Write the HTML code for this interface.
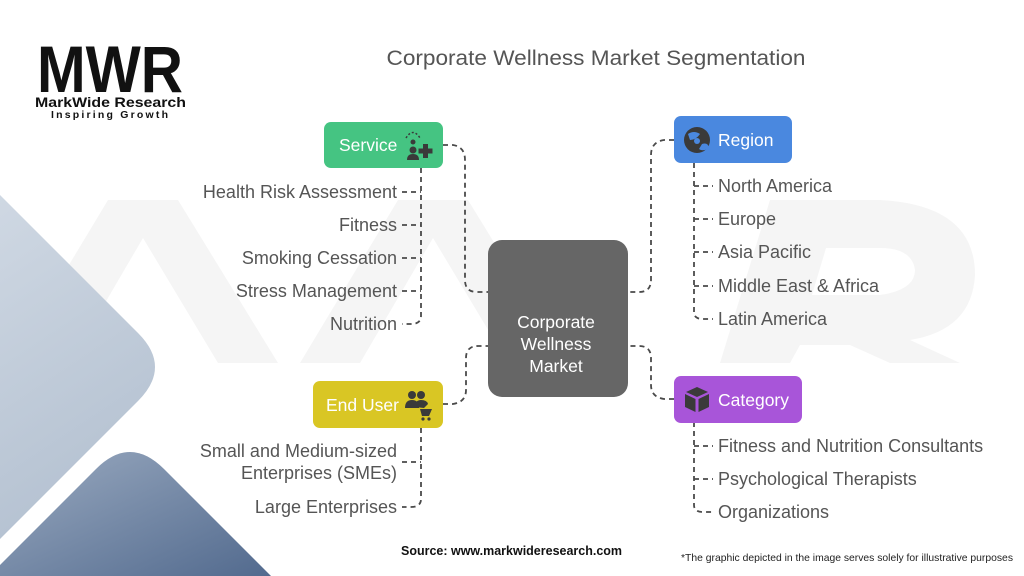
<!DOCTYPE html>
<html>
<head>
<meta charset="utf-8">
<style>
html,body{margin:0;padding:0;background:#fff;}
body{width:1024px;height:576px;overflow:hidden;position:relative;font-family:"Liberation Sans",sans-serif;}
svg{position:absolute;left:0;top:0;overflow:hidden;}
</style>
</head>
<body>
<svg width="1024" height="576" viewBox="0 0 1024 576" xmlns="http://www.w3.org/2000/svg">
  <defs>
    <linearGradient id="gLight" x1="0" y1="0" x2="0.3" y2="1">
      <stop offset="0" stop-color="#cfd8e3"/>
      <stop offset="1" stop-color="#b4c1d1"/>
    </linearGradient>
    <linearGradient id="gDark" x1="0" y1="0" x2="1" y2="1">
      <stop offset="0" stop-color="#9aaac0"/>
      <stop offset="1" stop-color="#526a8e"/>
    </linearGradient>
  </defs>

  <!-- watermark (faint) -->
  <g fill="#f5f5f5">
    <polygon points="10,363 108,200 178,200 278,363 218,363 143,238 70,363"/>
    <polygon points="300,363 398,200 468,200 568,363 508,363 433,238 360,363"/>
    <path d="M720,363 L770,200 L880,200 Q975,205 975,275 Q972,330 910,340 L960,363 L890,363 L850,345 L800,345 L790,363 Z M812,295 L880,295 Q915,290 915,270 Q912,248 880,248 L826,248 Z" fill-rule="evenodd"/>
  </g>

  <!-- left decorative shapes -->
  <path d="M0,195 L138,333 Q172,367 138,401 L0,539 Z" fill="url(#gLight)"/>
  <path d="M0,565 L96,469 Q130,435 164,469 L271,576 L0,576 Z" fill="url(#gDark)"/>

  <!-- logo -->
  <text x="37" y="92" font-family="Liberation Sans, sans-serif" font-weight="bold" font-size="66" fill="#111" textLength="146" lengthAdjust="spacingAndGlyphs">MWR</text>
  <text x="35" y="107" font-family="Liberation Sans, sans-serif" font-weight="bold" font-size="14" fill="#111" textLength="151" lengthAdjust="spacingAndGlyphs">MarkWide Research</text>
  <text x="51" y="118" font-family="Liberation Sans, sans-serif" font-weight="bold" font-size="10.5" fill="#111" textLength="117" lengthAdjust="spacing">Inspiring Growth</text>

  <!-- title -->
  <text x="596" y="65" text-anchor="middle" font-family="Liberation Sans, sans-serif" font-size="21.5" fill="#555" textLength="419" lengthAdjust="spacingAndGlyphs">Corporate Wellness Market Segmentation</text>

  <!-- connectors -->
  <g fill="none" stroke="#4a4a4a" stroke-width="1.8" stroke-dasharray="5 4">
    <path d="M443,145 L453,145 Q465,147 465,160 L465,280 Q465,292 477,292 L488,292"/>
    <path d="M674,140 L664,140 Q651,142 651,155 L651,280 Q651,292 639,292 L628,292"/>
    <path d="M443,404 L453,404 Q466,402 466,390 L466,358 Q466,346 478,346 L488,346"/>
    <path d="M674,399 L664,399 Q651,397 651,385 L651,358 Q651,346 639,346 L628,346"/>

    <path d="M421,168 L421,316 Q421,324 411,324 L402,324"/>
    <path d="M402,192 L421,192 M402,225 L421,225 M402,258 L421,258 M402,291 L421,291"/>
    <path d="M694,163 L694,312 Q694,319 703,319 L713,319"/>
    <path d="M694,186 L713,186 M694,219 L713,219 M694,252 L713,252 M694,286 L713,286"/>
    <path d="M421,428 L421,499 Q421,507 411,507 L402,507"/>
    <path d="M402,462 L421,462"/>
    <path d="M694,422 L694,505 Q694,512 703,512 L713,512"/>
    <path d="M694,446 L713,446 M694,479 L713,479"/>
  </g>

  <!-- center box -->
  <rect x="488" y="240" width="140" height="157" rx="14" ry="14" fill="#666666"/>
  <g font-family="Liberation Sans, sans-serif" font-size="17.5" fill="#fff" text-anchor="middle">
    <text x="556" y="328">Corporate</text>
    <text x="556" y="350">Wellness</text>
    <text x="556" y="372">Market</text>
  </g>

  <!-- Service box -->
  <rect x="324" y="122" width="119" height="46" rx="7" ry="7" fill="#45c482"/>
  <text x="339" y="151" font-family="Liberation Sans, sans-serif" font-size="17.5" fill="#fff">Service</text>
  <g fill="#3a3a3a">
    <path d="M406,138 Q413,127 420,138" fill="none" stroke="#3a3a3a" stroke-width="1.5" stroke-dasharray="2 2"/>
    <circle cx="413" cy="142" r="2.5"/>
    <circle cx="413" cy="150" r="3.5"/>
    <path d="M407,160 Q407,154 413,154 Q419,154 419,160 Z"/>
    <rect x="423" y="144" width="5" height="14"/>
    <rect x="418.5" y="148.5" width="14" height="5"/>
  </g>

  <!-- Region box -->
  <rect x="674" y="116" width="118" height="47" rx="7" ry="7" fill="#4a88df"/>
  <text x="718" y="146" font-family="Liberation Sans, sans-serif" font-size="17.5" fill="#fff">Region</text>
  <g>
    <circle cx="697" cy="140" r="13" fill="#3a3a3a"/>
    <path d="M688,134 Q694,130 700,134 Q696,140 690,140 Z" fill="#4a88df"/>
    <path d="M702,144 Q708,142 709,148 Q703,152 699,149 Z" fill="#4a88df"/>
    <circle cx="697" cy="141" r="3" fill="#4a88df"/>
  </g>

  <!-- End User box -->
  <rect x="313" y="381" width="130" height="47" rx="7" ry="7" fill="#d9c624"/>
  <text x="326" y="411" font-family="Liberation Sans, sans-serif" font-size="17.5" fill="#fff">End User</text>
  <g fill="#3a3a3a">
    <circle cx="412" cy="395" r="4"/>
    <circle cx="421" cy="395" r="4"/>
    <path d="M405,408 Q405,400 412,400 Q419,400 419,408 Z"/>
    <path d="M415,407 Q415,400 421,400 Q427,400 428,404 L424,408 Z"/>
    <path d="M420,409 L432,409 L429,416 L422,416 Z"/>
    <circle cx="423" cy="419" r="1.6"/>
    <circle cx="429" cy="419" r="1.6"/>
  </g>

  <!-- Category box -->
  <rect x="674" y="376" width="128" height="47" rx="7" ry="7" fill="#a855d9"/>
  <text x="718" y="406" font-family="Liberation Sans, sans-serif" font-size="17.5" fill="#fff">Category</text>
  <g fill="#3a3a3a">
    <path d="M686,392 L697,387 L708,392 L697,397 Z"/>
    <path d="M685,394 L695.5,399 L695.5,412 L685,407 Z"/>
    <path d="M709,394 L698.5,399 L698.5,412 L709,407 Z"/>
  </g>

  <!-- items -->
  <g font-family="Liberation Sans, sans-serif" font-size="18" fill="#555">
    <g text-anchor="end">
      <text x="397" y="198">Health Risk Assessment</text>
      <text x="397" y="231">Fitness</text>
      <text x="397" y="264">Smoking Cessation</text>
      <text x="397" y="297">Stress Management</text>
      <text x="397" y="330">Nutrition</text>
      <text x="397" y="457">Small and Medium-sized</text>
      <text x="397" y="479">Enterprises (SMEs)</text>
      <text x="397" y="513">Large Enterprises</text>
    </g>
    <text x="718" y="192">North America</text>
    <text x="718" y="225">Europe</text>
    <text x="718" y="258">Asia Pacific</text>
    <text x="718" y="292">Middle East &amp; Africa</text>
    <text x="718" y="325">Latin America</text>
    <text x="718" y="452">Fitness and Nutrition Consultants</text>
    <text x="718" y="485">Psychological Therapists</text>
    <text x="718" y="518">Organizations</text>
  </g>

  <!-- footer -->
  <text x="401" y="555" font-family="Liberation Sans, sans-serif" font-weight="bold" font-size="12.5" fill="#111" textLength="221" lengthAdjust="spacingAndGlyphs">Source: www.markwideresearch.com</text>
  <text x="681" y="561" font-family="Liberation Sans, sans-serif" font-size="10.5" fill="#222" textLength="332" lengthAdjust="spacingAndGlyphs">*The graphic depicted in the image serves solely for illustrative purposes</text>
</svg>
</body>
</html>
